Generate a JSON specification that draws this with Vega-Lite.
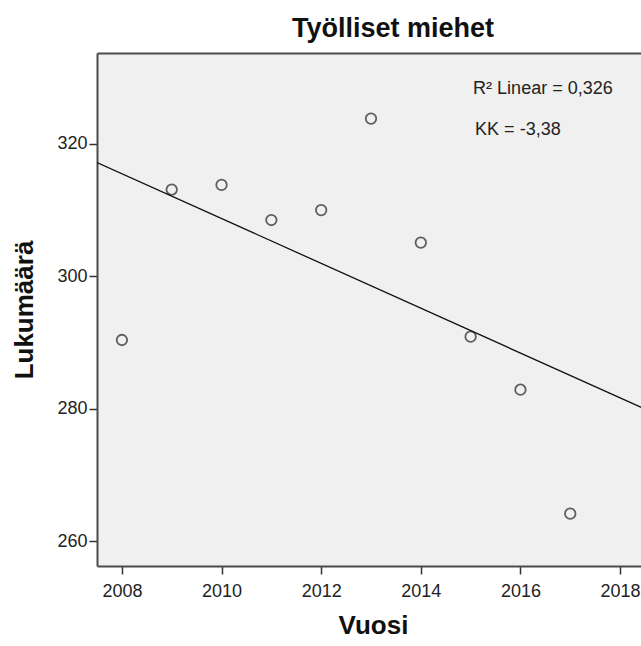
{
  "$schema": "https://vega.github.io/schema/vega-lite/v6.json",
  "autosize": "none",
  "width": 544,
  "height": 513,
  "padding": {"left": 97, "top": 53, "right": 0, "bottom": 80},
  "background": "white",
  "config": {
    "view": {"fill": "#F0F0F0", "stroke": null},
    "font": "Liberation Sans"
  },
  "title": {
    "text": "Työlliset miehet",
    "font": "Liberation Sans",
    "fontSize": 27,
    "fontWeight": "bold",
    "color": "#111111",
    "anchor": "middle",
    "dx": 24,
    "offset": 10
  },
  "datasets": {
    "points": [
      {"Vuosi": 2008, "Lukumaara": 290.4},
      {"Vuosi": 2009, "Lukumaara": 313.1},
      {"Vuosi": 2010, "Lukumaara": 313.8},
      {"Vuosi": 2011, "Lukumaara": 308.5},
      {"Vuosi": 2012, "Lukumaara": 310.0},
      {"Vuosi": 2013, "Lukumaara": 323.8},
      {"Vuosi": 2014, "Lukumaara": 305.1},
      {"Vuosi": 2015, "Lukumaara": 290.9},
      {"Vuosi": 2016, "Lukumaara": 282.9},
      {"Vuosi": 2017, "Lukumaara": 264.2}
    ],
    "notes": [
      {"label": "R² Linear = 0,326", "nx": 2015.05, "ny": 328.3},
      {"label": "KK = -3,38", "nx": 2015.09, "ny": 322.1}
    ]
  },
  "resolve": {"axis": {"x": "independent"}},
  "layer": [
    {
      "data": {"name": "points"},
      "mark": {"type": "point", "shape": "circle", "filled": false, "size": 110, "strokeWidth": 1.8, "color": "#222222"},
      "encoding": {
        "x": {
          "field": "Vuosi", "type": "quantitative",
          "scale": {"domain": [2007.5, 2018.42], "nice": false, "zero": false},
          "axis": {
            "orient": "bottom", "title": "Vuosi", "values": [2008, 2010, 2012, 2014, 2016, 2018],
            "format": "d", "grid": false,
            "domainColor": "#4a4a4a", "domainWidth": 2,
            "tickColor": "#333333", "tickWidth": 1.5, "tickSize": 8,
            "labelFont": "Liberation Sans", "labelFontSize": 18, "labelColor": "#222222", "labelPadding": 8,
            "titleFont": "Liberation Sans", "titleFontSize": 26, "titleFontWeight": "bold", "titleColor": "#111111",
            "titlePadding": 12, "titleX": 276
          }
        },
        "y": {
          "field": "Lukumaara", "type": "quantitative",
          "scale": {"domain": [256.3, 333.7], "nice": false, "zero": false},
          "axis": {
            "title": "Lukumäärä", "values": [260, 280, 300, 320], "grid": false,
            "domainColor": "#4a4a4a", "domainWidth": 2,
            "tickColor": "#333333", "tickWidth": 1.5, "tickSize": 8,
            "labelFont": "Liberation Sans", "labelFontSize": 18, "labelColor": "#222222", "labelPadding": 2,
            "titleFont": "Liberation Sans", "titleFontSize": 26, "titleFontWeight": "bold", "titleColor": "#111111",
            "titlePadding": 19
          }
        }
      }
    },
    {
      "data": {"name": "points"},
      "transform": [{"regression": "Lukumaara", "on": "Vuosi", "extent": [2007.5, 2019.5]}],
      "mark": {"type": "line", "color": "#111111", "strokeWidth": 1.3, "clip": true},
      "encoding": {
        "x": {
          "field": "Vuosi", "type": "quantitative",
          "axis": {"orient": "top", "labels": false, "ticks": false, "title": null, "grid": false, "domainColor": "#4a4a4a", "domainWidth": 2}
        },
        "y": {"field": "Lukumaara", "type": "quantitative"}
      }
    },
    {
      "data": {"name": "notes"},
      "mark": {"type": "text", "align": "left", "baseline": "middle", "font": "Liberation Sans", "fontSize": 18, "fontWeight": "normal", "color": "#222222"},
      "encoding": {
        "x": {"field": "nx", "type": "quantitative", "axis": null},
        "y": {"field": "ny", "type": "quantitative"},
        "text": {"field": "label"}
      }
    }
  ]
}
